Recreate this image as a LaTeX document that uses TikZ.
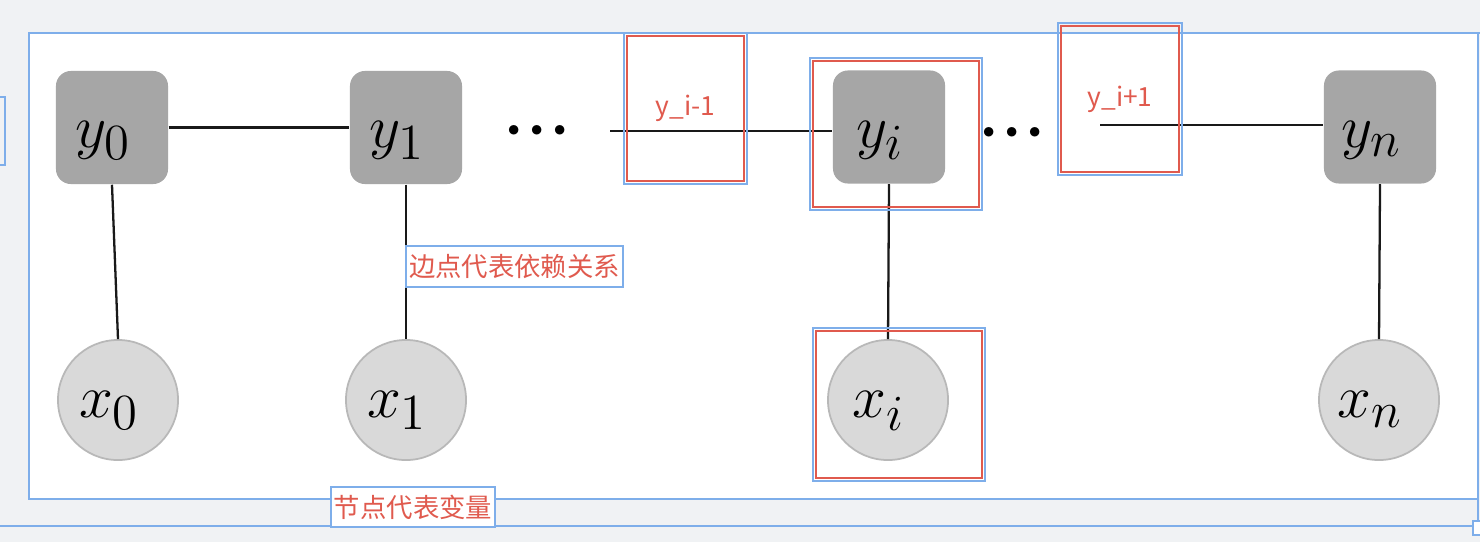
\documentclass[tikz,border=0pt]{standalone}
\usepackage{fontspec}
\newfontfamily\cjk{Noto Sans CJK SC}
\usetikzlibrary{calc}
\definecolor{bgc}{HTML}{F0F2F4}
\definecolor{bluec}{HTML}{7EAEEA}
\definecolor{redc}{HTML}{E05A4E}
\definecolor{yboxc}{HTML}{A6A6A6}
\definecolor{xcircc}{HTML}{D9D9D9}
\definecolor{xbordc}{HTML}{B8B8B8}
\newcommand\ytxt[1]{\raisebox{-5.8pt}[0pt][0pt]{\makebox[0pt]{\hspace*{-5pt}$#1$}}}
\newcommand\xtxt[1]{\raisebox{-5.1pt}[0pt][0pt]{\makebox[0pt]{\hspace*{-5pt}$#1$}}}
\newcommand\mydots{$\mathord{\cdotp}\mkern1mu\mathord{\cdotp}\mkern1mu\mathord{\cdotp}$}
\begin{document}
\begin{tikzpicture}[x=0.01cm,y=-0.01cm,
  ynode/.style={rectangle, rounded corners=0.15cm, fill=yboxc, minimum width=1.12cm, minimum height=1.13cm, inner sep=0pt, font=\fontsize{19}{22}\selectfont},
  xnode/.style={circle, fill=xcircc, draw=xbordc, line width=0.5pt, minimum size=1.2cm, inner sep=0pt, font=\fontsize{19}{22}\selectfont},
  edgeline/.style={line width=0.65pt, black!90},
  bluebox/.style={draw=bluec, line width=0.5pt},
  redbox/.style={draw=redc, line width=0.7pt, inner sep=0pt},
  redtxt/.style={text=redc, font=\cjk\fontsize{7.5}{9}\selectfont},
  dotsnode/.style={anchor=base, inner sep=0pt, font=\fontsize{16}{20}\selectfont\boldmath},
]
\useasboundingbox (0,0) rectangle (1480,542);
\fill[bgc] (0,0) rectangle (1480,542);
% frames
\draw[bluebox, fill=white] (29,33) rectangle (1478,499);
\draw[bluebox] (1478,33) -- (1480,33);
\draw[bluebox] (1478,499) -- (1478,526);
\draw[bluebox] (0,526) -- (1478,526);
\draw[bluebox, fill=white] (1473,521) rectangle (1482,535);
\draw[bluebox] (0,97) -- (5,97) -- (5,165) -- (0,165);

% y nodes
\node[ynode] (y0) at (112,127.5) {\ytxt{y_0}};
\node[ynode] (y1) at (406,127.5) {\ytxt{y_1}};
\node[ynode] (yi) at (889,127) {\ytxt{y_i}};
\node[ynode] (yn) at (1380,127) {\ytxt{y_n}};
% x nodes
\node[xnode] (x0) at (118,400) {\xtxt{x_0}};
\node[xnode] (x1) at (406,400) {\xtxt{x_1}};
\node[xnode] (xi) at (888,400) {\xtxt{x_i}};
\node[xnode] (xn) at (1379,400) {\xtxt{x_n}};

% dots
\node[dotsnode] (d1) at (537,145) {\mydots};
\node[dotsnode] (d2) at (1012,147) {\mydots};

% edges
\draw[edgeline] (y0) -- (y1);
\draw[edgeline] (y0.south) -- (x0.north);
\draw[edgeline] (y1.south) -- (x1.north);
\draw[edgeline] (yi.south) -- (xi.north);
\draw[edgeline] (yn.south) -- (xn.north);
\coordinate (c1) at (610,131);
\coordinate (c2) at (1100,125);
\draw[edgeline] (c1) -- (c1 -| yi.west);
\draw[edgeline] (c2) -- (c2 -| yn.west);

% red annotation boxes
\node[redbox, redtxt, minimum width=1.17cm, minimum height=1.45cm] (ym) at (685.5,108.5) {y\_i-1};
\node[redbox, redtxt, minimum width=1.18cm, minimum height=1.46cm] (yp) at (1120,99) {y\_i+1};
\node[redbox, minimum width=1.66cm, minimum height=1.46cm] (ri) at (896,134) {};
\node[redbox, minimum width=1.66cm, minimum height=1.47cm] (rx) at (899,404.5) {};
\foreach \b in {ym,yp,ri,rx}{
  \draw[bluebox] ($(\b.south west)+(-2,2)$) rectangle ($(\b.north east)+(2,-2)$);
}

% text labels
\node[bluebox, fill=white, redtxt, minimum width=2.17cm, minimum height=0.41cm, inner sep=0pt] (l1) at (514.5,266.5) {边点代表依赖关系};
\node[bluebox, fill=white, redtxt, minimum width=1.64cm, minimum height=0.40cm, inner sep=0pt] (l2) at (413,507) {节点代表变量};
\end{tikzpicture}
\end{document}
